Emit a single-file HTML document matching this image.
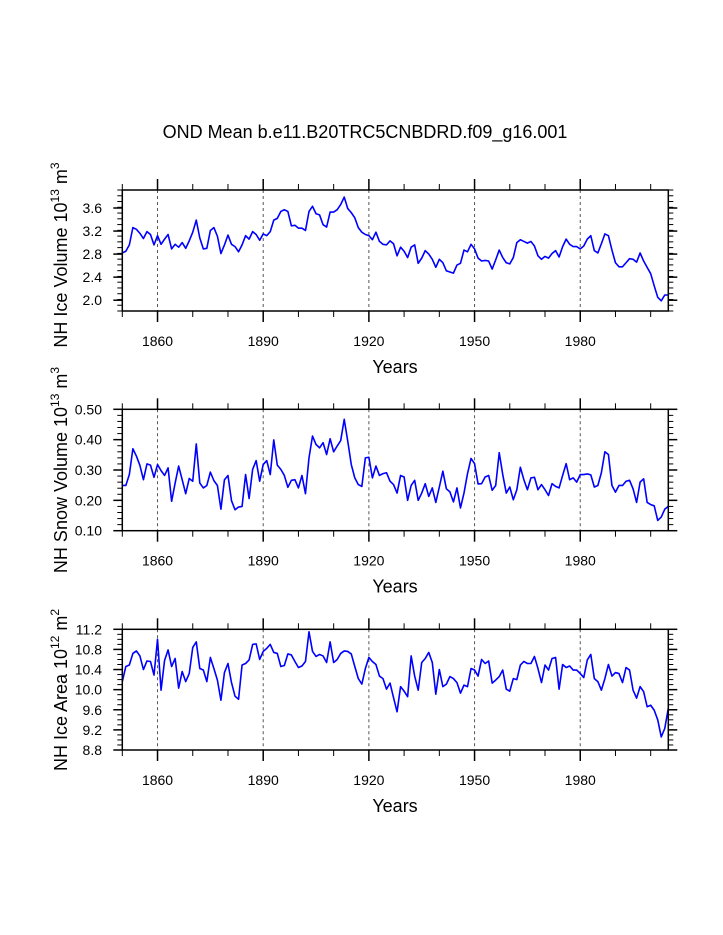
<!DOCTYPE html>
<html><head><meta charset="utf-8"><style>
html,body{margin:0;padding:0;background:#fff;}
svg{display:block;font-family:"Liberation Sans",Arial,sans-serif;}
</style></head><body>
<svg id="chart" width="723" height="935" viewBox="0 0 723 935" xmlns="http://www.w3.org/2000/svg">
<text x="365" y="138" font-size="18" text-anchor="middle">OND Mean b.e11.B20TRC5CNBDRD.f09_g16.001</text>
</svg>
<script>
const startYear = 1850;
const iceVolume = [2.82,2.85,2.96,3.26,3.23,3.16,3.07,3.19,3.14,2.96,3.12,2.97,3.06,3.14,2.89,2.97,2.92,3.00,2.90,3.03,3.18,3.39,3.08,2.89,2.90,3.21,3.26,3.11,2.81,2.96,3.13,2.97,2.93,2.84,2.96,3.12,3.06,3.19,3.14,3.04,3.15,3.12,3.19,3.39,3.42,3.54,3.57,3.54,3.29,3.30,3.25,3.25,3.21,3.54,3.63,3.50,3.48,3.31,3.27,3.53,3.53,3.57,3.66,3.79,3.59,3.52,3.43,3.26,3.18,3.14,3.12,3.05,3.18,3.02,2.97,2.96,3.03,2.98,2.77,2.92,2.85,2.74,2.92,2.96,2.64,2.73,2.86,2.80,2.71,2.57,2.71,2.65,2.51,2.49,2.47,2.61,2.64,2.87,2.84,2.97,2.89,2.73,2.68,2.69,2.68,2.54,2.70,2.87,2.74,2.65,2.63,2.74,3.00,3.05,3.02,2.99,3.02,2.94,2.77,2.71,2.76,2.73,2.81,2.86,2.75,2.93,3.06,2.97,2.93,2.93,2.89,2.94,3.06,3.12,2.86,2.82,2.98,3.15,3.12,2.87,2.65,2.58,2.58,2.65,2.72,2.71,2.66,2.82,2.68,2.57,2.46,2.25,2.05,1.99,2.09,2.09];
const snowVolume = [0.249,0.249,0.285,0.370,0.346,0.315,0.268,0.320,0.316,0.276,0.318,0.298,0.282,0.307,0.197,0.257,0.313,0.268,0.222,0.272,0.263,0.386,0.257,0.241,0.249,0.293,0.265,0.249,0.171,0.268,0.282,0.199,0.169,0.178,0.180,0.285,0.206,0.302,0.331,0.263,0.318,0.331,0.285,0.399,0.316,0.302,0.282,0.243,0.266,0.268,0.241,0.282,0.222,0.340,0.412,0.384,0.373,0.390,0.351,0.403,0.360,0.379,0.397,0.467,0.395,0.318,0.274,0.252,0.246,0.340,0.342,0.274,0.313,0.282,0.288,0.291,0.263,0.252,0.224,0.282,0.277,0.200,0.249,0.266,0.200,0.224,0.255,0.213,0.241,0.193,0.244,0.296,0.238,0.228,0.195,0.241,0.175,0.224,0.288,0.338,0.321,0.254,0.255,0.277,0.282,0.233,0.249,0.357,0.285,0.224,0.244,0.202,0.235,0.309,0.268,0.235,0.274,0.276,0.235,0.252,0.235,0.216,0.255,0.246,0.241,0.282,0.321,0.268,0.274,0.260,0.285,0.285,0.287,0.284,0.244,0.249,0.291,0.360,0.351,0.249,0.227,0.249,0.249,0.263,0.266,0.238,0.193,0.260,0.271,0.193,0.186,0.182,0.134,0.145,0.171,0.180];
const iceArea = [10.16,10.46,10.49,10.72,10.77,10.67,10.40,10.57,10.56,10.29,11.00,9.99,10.58,10.79,10.46,10.62,10.03,10.36,10.16,10.32,10.84,10.95,10.42,10.39,10.16,10.64,10.42,10.19,9.79,10.34,10.52,10.14,9.87,9.81,10.49,10.52,10.59,10.90,10.91,10.60,10.76,10.82,10.90,10.74,10.72,10.46,10.48,10.71,10.69,10.56,10.44,10.47,10.56,11.15,10.76,10.66,10.70,10.67,10.54,10.95,10.54,10.60,10.72,10.77,10.76,10.71,10.46,10.22,10.11,10.42,10.64,10.56,10.50,10.27,10.22,10.01,10.13,9.84,9.56,10.06,9.97,9.86,10.67,10.27,9.99,10.54,10.62,10.74,10.54,9.91,10.40,10.06,10.11,10.26,10.22,10.14,9.93,10.09,10.06,10.42,10.39,10.27,10.60,10.52,10.57,10.13,10.19,10.26,10.39,10.01,9.97,10.22,10.20,10.49,10.56,10.52,10.52,10.66,10.42,10.14,10.49,10.39,10.62,10.64,10.01,10.50,10.44,10.47,10.39,10.39,10.32,10.24,10.59,10.70,10.22,10.16,9.99,10.22,10.50,10.27,10.34,10.32,10.14,10.44,10.39,9.99,9.83,10.06,9.96,9.66,9.69,9.59,9.40,9.06,9.23,9.63];
const xMajorTicks = [1860,1890,1920,1950,1980];
const iceVolTicks = [2.0,2.4,2.8,3.2,3.6];
const snowTicks = [0.10,0.20,0.30,0.40,0.50];
const areaTicks = [8.8,9.2,9.6,10.0,10.4,10.8,11.2];

const NS='http://www.w3.org/2000/svg';
const svg=document.getElementById('chart');
function mk(tag,attrs,parent){const e=document.createElementNS(NS,tag);for(const k in attrs)e.setAttribute(k,attrs[k]);(parent||svg).appendChild(e);return e;}

const X0=122.3,X1=668.3,Y0=1850,Y1=2005;
function xs(yr){return X0+(yr-Y0)/(Y1-Y0)*(X1-X0);}

function panel(p){
  const g=mk('g',{});
  
  
  const ys=v=>p.bot-(v-p.vmin)/(p.vmax-p.vmin)*(p.bot-p.top);
  // grid
  xMajorTicks.forEach(yr=>{
    const l=mk('line',{x1:xs(yr),x2:xs(yr),y1:p.top,y2:p.bot,stroke:'#555','stroke-width':1,'stroke-dasharray':'3,3'},g);
    
    
  });
  // x ticks
  for(let yr=1850;yr<=2000;yr+=10){
    const major=xMajorTicks.includes(yr);const L=major?11:6;
    mk('line',{x1:xs(yr),x2:xs(yr),y1:p.top,y2:p.top-L,stroke:'#000','stroke-width':major?1.5:1},g);
    mk('line',{x1:xs(yr),x2:xs(yr),y1:p.bot,y2:p.bot+L,stroke:'#000','stroke-width':major?1.5:1},g);
  }
  // y minor ticks
  const nMinor=Math.round((p.vmax-p.vmin)/p.minor);
  for(let i=0;i<=nMinor;i++){
    const v=p.vmin+i*p.minor;const y=ys(v);
    if(y<p.top-0.5||y>p.bot+0.5)continue;
    mk('line',{x1:X0,x2:X0-5,y1:y,y2:y,stroke:'#000','stroke-width':1},g);
    mk('line',{x1:X1,x2:X1+5,y1:y,y2:y,stroke:'#000','stroke-width':1},g);
  }
  p.ticks.forEach(v=>{
    const y=ys(v);
    mk('line',{x1:X0,x2:X0-9,y1:y,y2:y,stroke:'#000','stroke-width':1.5},g);
    mk('line',{x1:X1,x2:X1+9,y1:y,y2:y,stroke:'#000','stroke-width':1.5},g);
    const t=mk('text',{x:102,y:y+5,'font-size':14,'text-anchor':'end'},g);
    t.textContent=v.toFixed(p.dec);
    
    
  });
  xMajorTicks.forEach(yr=>{
    const t=mk('text',{x:xs(yr),y:p.bot+35,'font-size':14,'text-anchor':'middle'},g);
    t.textContent=yr;
    
    
  });
  // series
  const pts=p.data.map((v,i)=>xs(startYear+i).toFixed(2)+','+ys(v).toFixed(2)).join(' ');
  const pl=mk('polyline',{points:pts,fill:'none',stroke:'#0000ff','stroke-width':1.6,'stroke-linejoin':'round'},g);
  
  
  // frame
  const r=mk('rect',{x:X0,y:p.top,width:X1-X0,height:p.bot-p.top,fill:'none',stroke:'#000','stroke-width':1.5},g);
  
  
  // x title
  const xt=mk('text',{x:395,y:p.bot+62,'font-size':18,'text-anchor':'middle'},g);
  xt.textContent='Years';
  
  
  // y title
  const yt=mk('text',{x:0,y:0,'font-size':18,'text-anchor':'middle',transform:'translate(67,'+p.ycen+') rotate(-90)'},g);
  
  
  yt.innerHTML=p.label+'<tspan font-size="12" dy="-8">'+p.exp+'</tspan><tspan dy="8"> m</tspan><tspan font-size="12" dy="-8">'+p.unitExp+'</tspan>';
}
panel({name:'ice-volume',top:190,bot:311,vmin:1.8125,vmax:3.9125,minor:0.1,ticks:iceVolTicks,dec:1,data:iceVolume,label:'NH Ice Volume 10',exp:'13',unitExp:'3',ycen:255});
panel({name:'snow-volume',top:409.3,bot:530.7,vmin:0.10,vmax:0.50,minor:0.02,ticks:snowTicks,dec:2,data:snowVolume,label:'NH Snow Volume 10',exp:'13',unitExp:'3',ycen:470});
panel({name:'ice-area',top:629.3,bot:750,vmin:8.8,vmax:11.2,minor:0.1,ticks:areaTicks,dec:1,data:iceArea,label:'NH Ice Area 10',exp:'12',unitExp:'2',ycen:690});
</script>
</body></html>
